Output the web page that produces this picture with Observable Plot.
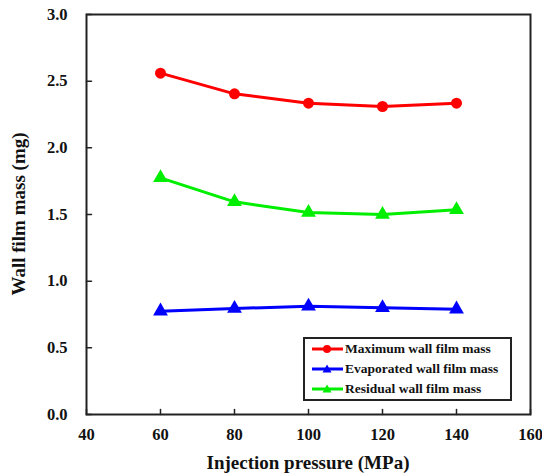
<!DOCTYPE html>
<html>
<head>
<meta charset="utf-8">
<script src="https://cdn.jsdelivr.net/npm/d3@7"></script>
<script src="https://cdn.jsdelivr.net/npm/@observablehq/plot@0.6"></script>
<style>
  html, body { margin: 0; padding: 0; background: #fff; }
  #wrap { position: relative; width: 542px; height: 476px; font-family: "Liberation Serif", "Times New Roman", serif; }
  #legend { position: absolute; left: 303px; top: 337px; width: 205px; height: 60px; border: 2px solid #222; background: #fff; box-sizing: content-box; }
  .row { display: flex; align-items: center; height: 20px; font-weight: bold; font-size: 13.5px; color: #111; white-space: nowrap; }
  .row svg { margin-left: 7px; margin-right: 2px; }
</style>
</head>
<body>
<div id="wrap"></div>
<script>
const pressures = [60, 80, 100, 120, 140];
const maximumMass = [2.56, 2.405, 2.335, 2.31, 2.335];
const evaporatedMass = [0.775, 0.795, 0.812, 0.8, 0.79];
const residualMass = [1.775, 1.595, 1.515, 1.5, 1.535];
const seriesNames = ["Maximum wall film mass", "Evaporated wall film mass", "Residual wall film mass"];
const seriesColors = ["#ff0000", "#0000ff", "#00ee00"];
const seriesSymbols = ["circle", "triangle", "triangle"];
const xTicks = [40, 60, 80, 100, 120, 140, 160];
const yTicks = [0, 0.5, 1.0, 1.5, 2.0, 2.5, 3.0];

const allValues = [maximumMass, evaporatedMass, residualMass];
const data = [];
allValues.forEach((vals, i) => vals.forEach((v, j) => data.push({series: seriesNames[i], x: pressures[j], y: v})));

const colorScale = {domain: seriesNames, range: seriesColors};
const symbolScale = {domain: seriesNames, range: seriesSymbols};
const tickShape = {draw(context, l) { context.moveTo(0, 0); context.lineTo(0, -l); }};

const chart = Plot.plot({
  width: 542,
  height: 476,
  marginLeft: 86,
  marginRight: 12,
  marginTop: 14,
  marginBottom: 62,
  style: {fontFamily: "'Liberation Serif', 'Times New Roman', serif", fontWeight: "bold", fontSize: "16.5px", background: "#fff"},
  x: {domain: [40, 160]},
  y: {domain: [0, 3]},
  color: colorScale,
  symbol: symbolScale,
  marks: [
    Plot.axisX({ticks: xTicks, tickSize: 0, tickPadding: 14, tickFormat: d => String(d), fontSize: 16.5, fill: "#111", label: null}),
    Plot.axisY({ticks: yTicks, tickSize: 0, tickPadding: 19, tickFormat: d => d.toFixed(1), fontSize: 16.5, fill: "#111", label: null}),
    Plot.vector(xTicks, {x: d => d, y: 0, length: 5, rotate: 0, anchor: "start", shape: tickShape, stroke: "#222", strokeWidth: 1.5}),
    Plot.vector(yTicks, {x: 40, y: d => d, length: 5, rotate: 90, anchor: "start", shape: tickShape, stroke: "#222", strokeWidth: 1.5}),
    Plot.frame({stroke: "#222", strokeWidth: 2}),
    Plot.line(data, {x: "x", y: "y", z: "series", stroke: "series", strokeWidth: 3}),
    Plot.dot(data, {x: "x", y: "y", symbol: "series", fill: "series", r: 5.5})
  ]
});

const svg = d3.select(chart);
svg.selectAll("text")
  .style("font-weight", "bold")
  .style("font-size", "16.5px")
  .style("font-family", "'Liberation Serif', 'Times New Roman', serif");
svg.append("text")
  .attr("x", (86 + 530) / 2 + 0).attr("y", 469)
  .attr("text-anchor", "middle")
  .style("font-weight", "bold").style("font-size", "19px").attr("fill", "#111")
  .text("Injection pressure (MPa)");
svg.append("text")
  .attr("transform", `translate(25, ${(14 + 414) / 2}) rotate(-90)`)
  .attr("text-anchor", "middle")
  .style("font-weight", "bold").style("font-size", "19px").attr("fill", "#111")
  .text("Wall film mass (mg)");

const wrap = document.getElementById("wrap");
wrap.appendChild(chart);

const legend = document.createElement("div");
legend.id = "legend";
seriesNames.forEach((name, i) => {
  const row = document.createElement("div");
  row.className = "row";
  const sym = seriesSymbols[i] === "circle"
    ? `<circle cx="15" cy="6" r="4" fill="${seriesColors[i]}"/>`
    : `<path d="M15,1.5 L19.5,9.5 L10.5,9.5 Z" fill="${seriesColors[i]}"/>`;
  row.innerHTML = `<svg width="31" height="12"><line x1="0" y1="6" x2="31" y2="6" stroke="${seriesColors[i]}" stroke-width="3"/>${sym}</svg><span>${name}</span>`;
  legend.appendChild(row);
});
wrap.appendChild(legend);
</script>
</body>
</html>
